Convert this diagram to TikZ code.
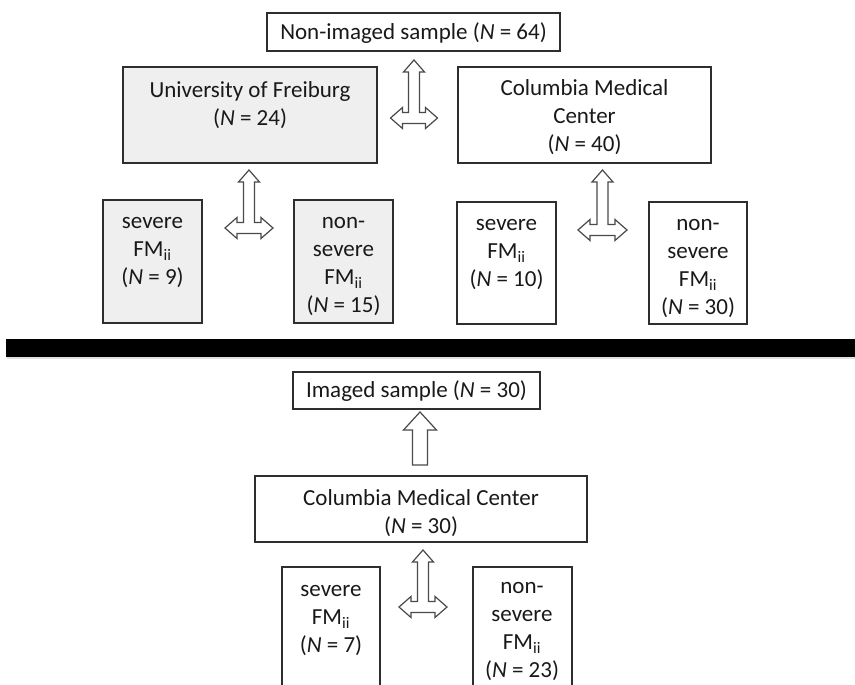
\documentclass[tikz,border=0pt]{standalone}
\usepackage{fontspec}
\setmainfont{Carlito}
\usetikzlibrary{fit}
\definecolor{boxc}{HTML}{2E2E2E}
\definecolor{arrc}{HTML}{4A4A4A}
\definecolor{boxfill}{HTML}{EFEFEF}
\newcommand\lruparrow[4]{%
 \draw[blockarrow] (#1,#2) -- ({#1+10.5},{#2+12}) -- ({#1+5.5},{#2+12}) -- ({#1+5.5},{#3-5.5})
  -- ({#1+#4-12},{#3-5.5}) -- ({#1+#4-12},{#3-10.5}) -- ({#1+#4},#3) -- ({#1+#4-12},{#3+10.5})
  -- ({#1+#4-12},{#3+5.5}) -- ({#1-#4+12},{#3+5.5}) -- ({#1-#4+12},{#3+10.5}) -- ({#1-#4},#3)
  -- ({#1-#4+12},{#3-10.5}) -- ({#1-#4+12},{#3-5.5}) -- ({#1-5.5},{#3-5.5}) -- ({#1-5.5},{#2+12})
  -- ({#1-10.5},{#2+12}) -- cycle;}
\begin{document}
\begin{tikzpicture}[x=1pt,y=-1pt,
  box/.style={draw=boxc, line width=1.3pt, fill=white, inner sep=0pt},
  greybox/.style={box, fill=boxfill},
  txt/.style={align=center, inner sep=0pt, text=black!90, font=\fontsize{23}{28}\selectfont},
  blockarrow/.style={draw=arrc, line width=1.2pt, fill=white, line join=miter}]
\useasboundingbox (0,0) rectangle (855,685);
\clip (0,0) rectangle (855,685);

% upper part
\node[box, fit={(267,13) (560,51)}] (top) {};
\node[txt] (topT) at (413.5,33) {Non-imaged sample (\textit{N} = 64)};
\node[greybox, fit={(123,67) (377,163)}] (fr) {};
\node[txt] (frT) at (250,105) {University of Freiburg\\(\textit{N} = 24)};
\node[box, fit={(458,67) (711,163)}] (cmc) {};
\node[txt] (cmcT) at (584.5,117) {Columbia Medical\\Center\\(\textit{N} = 40)};

\node[greybox, fit={(103,200) (202,323)}] (sevF) {};
\node[txt] (sevFT) at (152.5,253) {severe\\FM\textsubscript{ii}\\(\textit{N} = 9)};
\node[greybox, fit={(294,200) (393,323)}] (nsevF) {};
\node[txt] (nsevFT) at (343.5,267) {non-\\severe\\FM\textsubscript{ii}\\(\textit{N} = 15)};
\node[box, fit={(457,202) (556,324)}] (sevC) {};
\node[txt] (sevCT) at (506.5,255) {severe\\FM\textsubscript{ii}\\(\textit{N} = 10)};
\node[box, fit={(649,202) (747,324)}] (nsevC) {};
\node[txt] (nsevCT) at (698,269) {non-\\severe\\FM\textsubscript{ii}\\(\textit{N} = 30)};

\lruparrow{414}{60}{118}{23.5}
\lruparrow{249}{170}{228}{24}
\lruparrow{602.5}{170}{230}{24.5}

% separator bar
\fill[black!12] (7,340) rectangle (862,359);
\fill[black] (6,339) rectangle (862,357);

% lower part
\node[box, fit={(293,372) (540,409)}] (img) {};
\node[txt] (imgT) at (416.5,391) {Imaged sample (\textit{N} = 30)};
\node[box, fit={(255,476) (587,542)}] (cmc2) {};
\node[txt] (cmc2T) at (421,513) {Columbia Medical Center\\(\textit{N} = 30)};
\node[box, fit={(282,567) (380,720)}] (sevB) {};
\node[txt] (sevBT) at (331,621) {severe\\FM\textsubscript{ii}\\(\textit{N} = 7)};
\node[box, fit={(473,567) (572,720)}] (nsevB) {};
\node[txt] (nsevBT) at (522,632) {non-\\severe\\FM\textsubscript{ii}\\(\textit{N} = 23)};

\draw[blockarrow] (420,412) -- (436.5,430) -- (427.5,430) -- (427.5,465) -- (412.5,465)
  -- (412.5,430) -- (403.5,430) -- cycle;
\lruparrow{423}{550}{607}{24}
\end{tikzpicture}
\end{document}
